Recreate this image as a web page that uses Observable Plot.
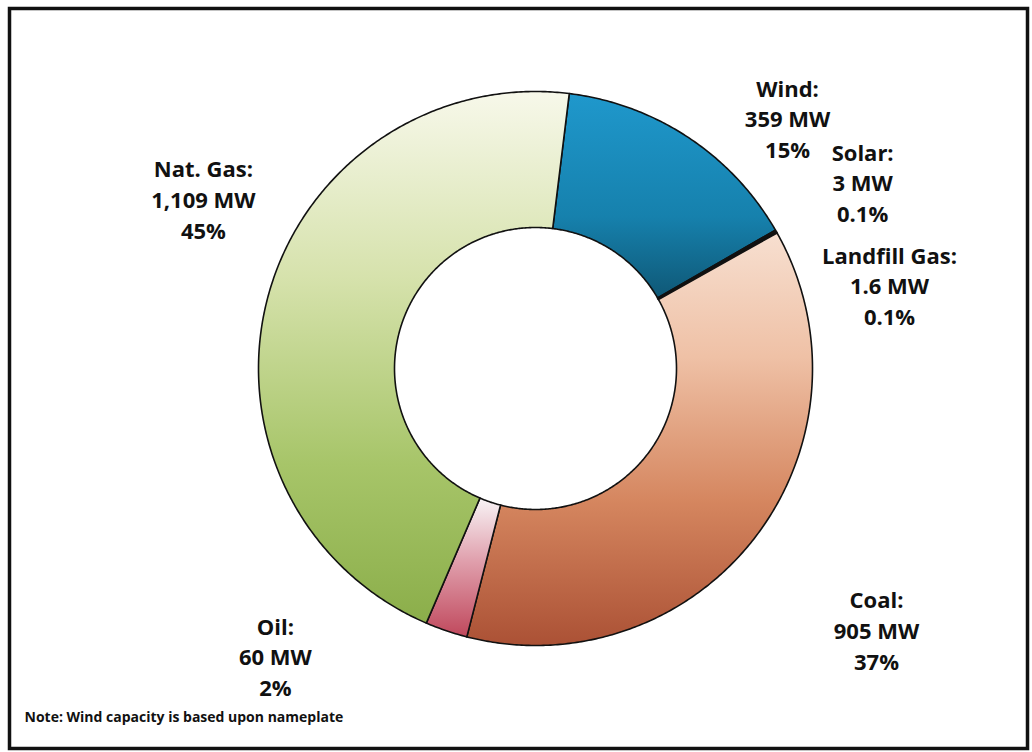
<!DOCTYPE html>
<html><head><meta charset="utf-8">
<script src="https://cdn.jsdelivr.net/npm/d3@7"></script>
<script src="https://cdn.jsdelivr.net/npm/@observablehq/plot@0.6"></script>
<style>body{margin:0;background:#fff} svg{display:block}</style>
</head><body><div id="chart"></div>
<script>
// ---- data ----
const categories = ["Wind", "Solar", "Landfill Gas", "Coal", "Oil", "Nat. Gas"];
const capacityMW = [359, 3, 1.6, 905, 60, 1109];
const percentLabels = ["15%", "0.1%", "0.1%", "37%", "2%", "45%"];
const noteText = "Note: Wind capacity is based upon nameplate";

// ---- layout / style ----
const W = 1032, H = 752;
const cx = 535, cy = 368, R = 277, innerRatio = 0.509;
const startDeg = 7;
const mL = 9, mR = 5, mT = 8, mB = 4;
const labelAt = [[0.91, 0.906], [1.181, 0.675], [1.278, 0.303], [1.231, -0.942], [-0.939, -1.036], [-1.199, 0.614]];
const gradientStops = [
  [[0, "#1f98cc"], [0.6, "#1681ad"], [1, "#0f5876"]],
  [[0, "#1a1a1a"], [1, "#1a1a1a"]],
  [[0, "#262626"], [1, "#262626"]],
  [[0, "#f7dfd0"], [0.3, "#efc1a6"], [0.65, "#d5865f"], [1, "#ab5135"]],
  [[0, "#f8f4f6"], [0.45, "#e0a0ad"], [1, "#c0485c"]],
  [[0, "#f7f8ea"], [0.35, "#d6e2ac"], [0.7, "#a7c569"], [1, "#8bae4a"]]
];

// ---- geometry from data ----
const rows = categories.map((name, i) => ({name, value: capacityMW[i], i}));
const start = startDeg * Math.PI / 180;
const arcs = d3.pie().sort(null).value(d => d.value).startAngle(start).endAngle(start + 2 * Math.PI)(rows);
const pts = [];
for (const a of arcs) {
  const n = Math.max(2, Math.ceil((a.endAngle - a.startAngle) / (Math.PI / 360)));
  const grad = `url(#slice-g${a.data.i})`;
  for (let k = 0; k <= n; k++) {
    const t = a.startAngle + (a.endAngle - a.startAngle) * k / n;
    pts.push({name: a.data.name, grad, x: Math.sin(t), y: Math.cos(t)});
  }
  for (let k = n; k >= 0; k--) {
    const t = a.startAngle + (a.endAngle - a.startAngle) * k / n;
    pts.push({name: a.data.name, grad, x: innerRatio * Math.sin(t), y: innerRatio * Math.cos(t)});
  }
}

const fmt = d3.format(",");
const svg = Plot.plot({
  width: W, height: H,
  marginLeft: mL, marginRight: mR, marginTop: mT, marginBottom: mB,
  x: {domain: [(mL - cx) / R, (W - mR - cx) / R], axis: null},
  y: {domain: [-(H - mB - cy) / R, (cy - mT) / R], axis: null},
  color: {type: "identity"},
  marks: [
    Plot.line(pts, {x: "x", y: "y", z: "name", fill: "grad", stroke: "#111", strokeWidth: 1.6, curve: "linear-closed"}),
    Plot.text(rows, {
      x: d => labelAt[d.i][0], y: d => labelAt[d.i][1],
      text: d => `${d.name}:\n${fmt(d.value)} MW\n${percentLabels[d.i]}`,
      fontSize: 22, fontWeight: "bold", fontFamily: "Open Sans", lineHeight: 1.4, fill: "#111"
    }),
    Plot.text([noteText], {frameAnchor: "bottom-left", dx: 15, dy: -27, textAnchor: "start", text: d => d,
      fontSize: 14, fontWeight: "bold", fontFamily: "Open Sans", fill: "#111"}),
    Plot.frame({stroke: "#111", strokeWidth: 3.5})
  ]
});

const defs = d3.select(svg).insert("defs", ":first-child");
gradientStops.forEach((stops, i) => {
  const g = defs.append("linearGradient").attr("id", `slice-g${i}`)
    .attr("x1", 0).attr("y1", 0).attr("x2", 0).attr("y2", 1);
  stops.forEach(([o, c]) => g.append("stop").attr("offset", o).attr("stop-color", c));
});
document.getElementById("chart").append(svg);
</script>
</body></html>
